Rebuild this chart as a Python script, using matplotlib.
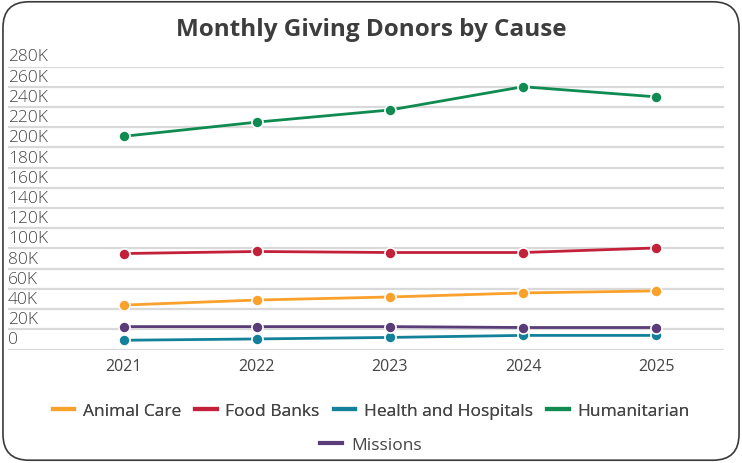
import matplotlib.pyplot as plt
from matplotlib.lines import Line2D
from matplotlib.patches import FancyBboxPatch
from matplotlib.transforms import offset_copy

plt.rcParams['font.family'] = ['Open Sans', 'DejaVu Sans']

# Monthly donors per cause, 2021-2025
years = ['2021', '2022', '2023', '2024', '2025']
animal_care = [44000, 49000, 52000, 56000, 58000]
food_banks = [95000, 97000, 96000, 96000, 100500]
health_hospitals = [9200, 10500, 12000, 14000, 14000]
humanitarian = [211000, 225000, 237000, 260000, 250000]
missions = [22700, 22700, 22700, 21800, 21800]

series = [
    ('Animal Care', animal_care, '#F9A12B'),
    ('Food Banks', food_banks, '#C3203A'),
    ('Health and Hospitals', health_hospitals, '#13819A'),
    ('Humanitarian', humanitarian, '#0F8B51'),
    ('Missions', missions, '#5A3C78'),
]
y_ticks = list(range(0, 280001, 20000))

fig = plt.figure(figsize=(7.42, 4.64), dpi=100, facecolor='white')

# rounded card border
card = FancyBboxPatch((0.004, 0.006), 0.992, 0.988, boxstyle='round,pad=0,rounding_size=0.035',
                      transform=fig.transFigure, facecolor='none', edgecolor='#3a3a3a',
                      linewidth=1.2, mutation_aspect=742 / 464)
fig.patches.append(card)

ax = fig.add_axes([0.0108, 0.2445, 0.9649, 0.61])
ax.set_zorder(2)
ax.set_facecolor('none')
x = range(len(years))

for name, vals, color in series:
    ax.plot(x, vals, color=color, lw=2, marker='o', markersize=8,
            markeredgecolor='white', markeredgewidth=1.2, zorder=3, label=name)

ax.set_xlim(-0.872, 4.511)
ax.set_ylim(0, 280000)
ax.set_yticks(y_ticks)
ax.set_xticks(list(x))
ax.set_xticklabels(years, fontsize=11.5, color='#444444')
ax.tick_params(axis='x', length=0, pad=6)
ax.tick_params(axis='y', length=0, labelleft=False)
ax.grid(axis='y', color='#d9d9d9', lw=1.6)
ax.set_axisbelow(True)
for s in ax.spines.values():
    s.set_visible(False)

# y labels sit just above their gridlines at the left edge
label_tr = offset_copy(ax.get_yaxis_transform(), fig=fig, x=0, y=1.5, units='points')
for v in y_ticks:
    txt = '0' if v == 0 else f'{v // 1000}K'
    ax.text(0.0, v, txt, transform=label_tr, ha='left', va='bottom',
            fontsize=12.5, color='#444444', fontweight='light')

fig.text(0.5, 0.935, 'Monthly Giving Donors by Cause', ha='center', va='center',
         fontsize=17.5, fontweight='bold', color='#3d3d3d')

handles = [Line2D([], [], color=c, lw=3) for _, _, c in series]
names = [n for n, _, _ in series]
leg_kw = dict(frameon=False, fontsize=12.5, handlelength=1.25, handletextpad=0.5,
              columnspacing=0.8, labelcolor='#444444')
leg1 = fig.legend(handles[:4], names[:4], loc='center', bbox_to_anchor=(0.5, 0.113),
                  ncol=4, **leg_kw)
fig.legend(handles[4:], names[4:], loc='center', bbox_to_anchor=(0.5, 0.038),
           ncol=1, **leg_kw)
fig.add_artist(leg1)

fig.savefig('out.png', dpi=100)
